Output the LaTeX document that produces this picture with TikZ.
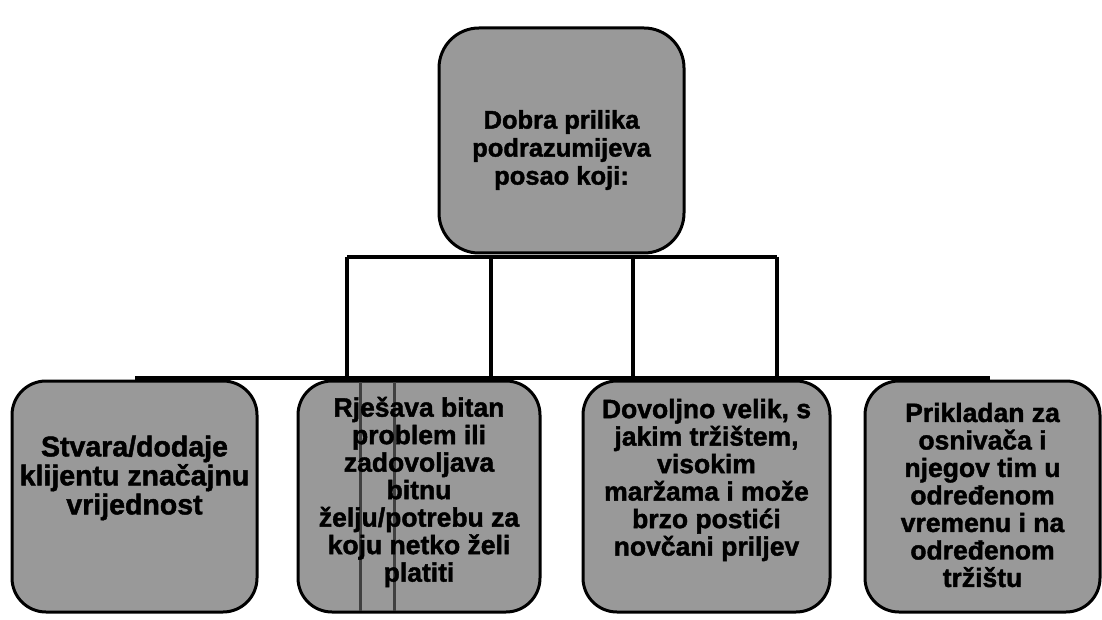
\documentclass[tikz,border=0pt]{standalone}
\usepackage{fontspec}
\setmainfont{Liberation Sans}[BoldFeatures={FakeBold=1.6}]
\begin{document}
\begin{tikzpicture}[x=1pt,y=-1pt,
    box/.style={draw=black,line width=3pt,fill=black!40,rounded corners=34pt,
      minimum width=245pt,minimum height=231pt,inner sep=0pt},
    txt/.style={align=center,font=\fontsize{26.5}{27.5}\selectfont\bfseries},
    wire/.style={line width=4.5pt},
    scan/.style={line width=3pt,black!75}]
    \useasboundingbox (0,0) rectangle (1102,620);
    \node[box,minimum height=225pt,rounded corners=40pt] (top) at (561.5,140.5) {};
    \node[txt,font=\fontsize{25.5}{28}\selectfont\bfseries] (toptxt) at (561.5,150)
      {Dobra prilika\\podrazumijeva\\posao koji:};
    \coordinate (h1) at (347,257);
    \coordinate (h2) at (491,257);
    \coordinate (h3) at (633,257);
    \coordinate (h4) at (777,257);
    \coordinate (busL) at (135,378);
    \coordinate (busR) at (990,378);
    \draw[wire] (h1) -- (h4);
    \draw[wire] (busL) -- (busR);
    \foreach \h in {h1,h2,h3,h4}
      \draw[wire] (\h) -- (\h |- busL);
    \node[box] (b1) at (134.5,496.5) {};
    \node[box,minimum width=242pt] (b2) at (419,496.5) {};
    \node[box,minimum width=247pt] (b3) at (706.5,496.5) {};
    \node[box,minimum width=235pt] (b4) at (982.5,496.5) {};
    \draw[scan] (360,382) -- (360,611);
    \draw[scan] (394,382) -- (394,611);
    \node[txt,font=\fontsize{28.5}{29}\selectfont\bfseries] (b1txt) at (134.5,478)
      {Stvara/dodaje\\klijentu značajnu\\vrijednost};
    \node[txt] (b2txt) at (419,492)
      {Rješava bitan\\problem ili\\zadovoljava\\bitnu\\želju/potrebu za\\koju netko želi\\platiti};
    \node[txt] (b3txt) at (706.5,480)
      {Dovoljno velik, s\\jakim tržištem,\\visokim\\maržama i može\\brzo postići\\novčani priljev};
    \node[txt] (b4txt) at (982.5,495)
      {Prikladan za\\osnivača i\\njegov tim u\\određenom\\vremenu i na\\određenom\\tržištu};
\end{tikzpicture}
\end{document}
